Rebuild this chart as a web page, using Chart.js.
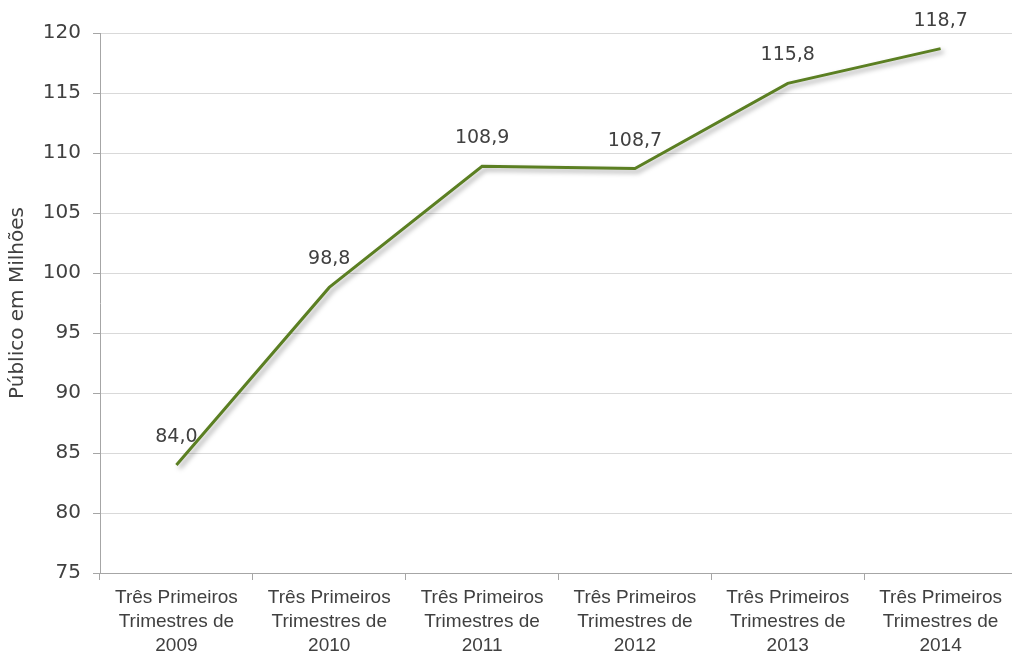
<!DOCTYPE html>
<html>
<head>
<meta charset="utf-8">
<script src="https://cdn.jsdelivr.net/npm/chart.js@4"></script>
<style>
  html, body { margin: 0; padding: 0; background: #fff; overflow: hidden; }
  #wrap { width: 1020px; height: 660px; }
</style>
</head>
<body>
<div id="wrap"><canvas id="grafico"></canvas></div>
<script>
const categorias = [
    ["Três Primeiros", "Trimestres de", "2009"],
    ["Três Primeiros", "Trimestres de", "2010"],
    ["Três Primeiros", "Trimestres de", "2011"],
    ["Três Primeiros", "Trimestres de", "2012"],
    ["Três Primeiros", "Trimestres de", "2013"],
    ["Três Primeiros", "Trimestres de", "2014"]
];
const publico = [84.0, 98.8, 108.9, 108.7, 115.8, 118.7];
const eixoY = { min: 75, max: 120, passo: 5 };
const tituloY = "Público em Milhões";

const fonteTexto = "'DejaVu Sans', Lato, sans-serif";

// sombra suave da linha
const sombraLinha = {
    id: "sombraLinha",
    beforeDatasetDraw(chart) {
        const c = chart.ctx;
        c.save();
        c.shadowColor = "rgba(0,0,0,0.35)";
        c.shadowBlur = 5;
        c.shadowOffsetX = 3;
        c.shadowOffsetY = 3;
    },
    afterDatasetDraw(chart) {
        chart.ctx.restore();
    }
};

// rótulos de valor acima de cada ponto
const rotulos = {
    id: "rotulos",
    afterDatasetsDraw(chart) {
        const c = chart.ctx;
        const meta = chart.getDatasetMeta(0);
        c.save();
        c.font = "19px " + fonteTexto;
        c.fillStyle = "#404040";
        c.textAlign = "center";
        c.textBaseline = "middle";
        meta.data.forEach((p, i) => {
            const txt = publico[i].toFixed(1).replace(".", ",");
            c.fillText(txt, p.x, p.y - 28);
        });
        c.restore();
    }
};

new Chart(document.getElementById("grafico"), {
    type: "line",
    data: {
        labels: categorias,
        datasets: [{
            data: publico,
            borderColor: "#5b7f22",
            borderWidth: 3,
            pointRadius: 0,
            tension: 0,
            fill: false
        }]
    },
    options: {
        responsive: true,
        maintainAspectRatio: false,
        animation: false,
        layout: { padding: { top: 33, right: 3, left: 6, bottom: 0 } },
        plugins: {
            legend: { display: false },
            tooltip: { enabled: false }
        },
        scales: {
            x: {
                offset: true,
                afterFit: (s) => { s.height = 87; },
                grid: {
                    offset: true,
                    drawOnChartArea: false,
                    tickLength: 7,
                    color: "#a6a6a6"
                },
                border: { color: "#a6a6a6", width: 1 },
                ticks: {
                    color: "#404040",
                    maxRotation: 0,
                    autoSkip: false,
                    padding: 6,
                    font: { family: "'Liberation Sans', Arial, sans-serif", size: 19, lineHeight: 1.26 }
                }
            },
            y: {
                min: eixoY.min,
                max: eixoY.max,
                afterFit: (s) => { s.width = 94; },
                ticks: {
                    stepSize: eixoY.passo,
                    color: "#404040",
                    padding: 12,
                    font: { family: fonteTexto, size: 20 }
                },
                grid: {
                    color: "#d9d9d9",
                    lineWidth: 1,
                    tickLength: 7,
                    tickColor: "#a6a6a6"
                },
                border: { color: "#a6a6a6", width: 1 },
                title: {
                    display: true,
                    text: tituloY,
                    color: "#404040",
                    padding: { top: 0, bottom: 4 },
                    font: { family: fonteTexto, size: 20 }
                }
            }
        }
    },
    plugins: [sombraLinha, rotulos]
});
</script>
</body>
</html>
